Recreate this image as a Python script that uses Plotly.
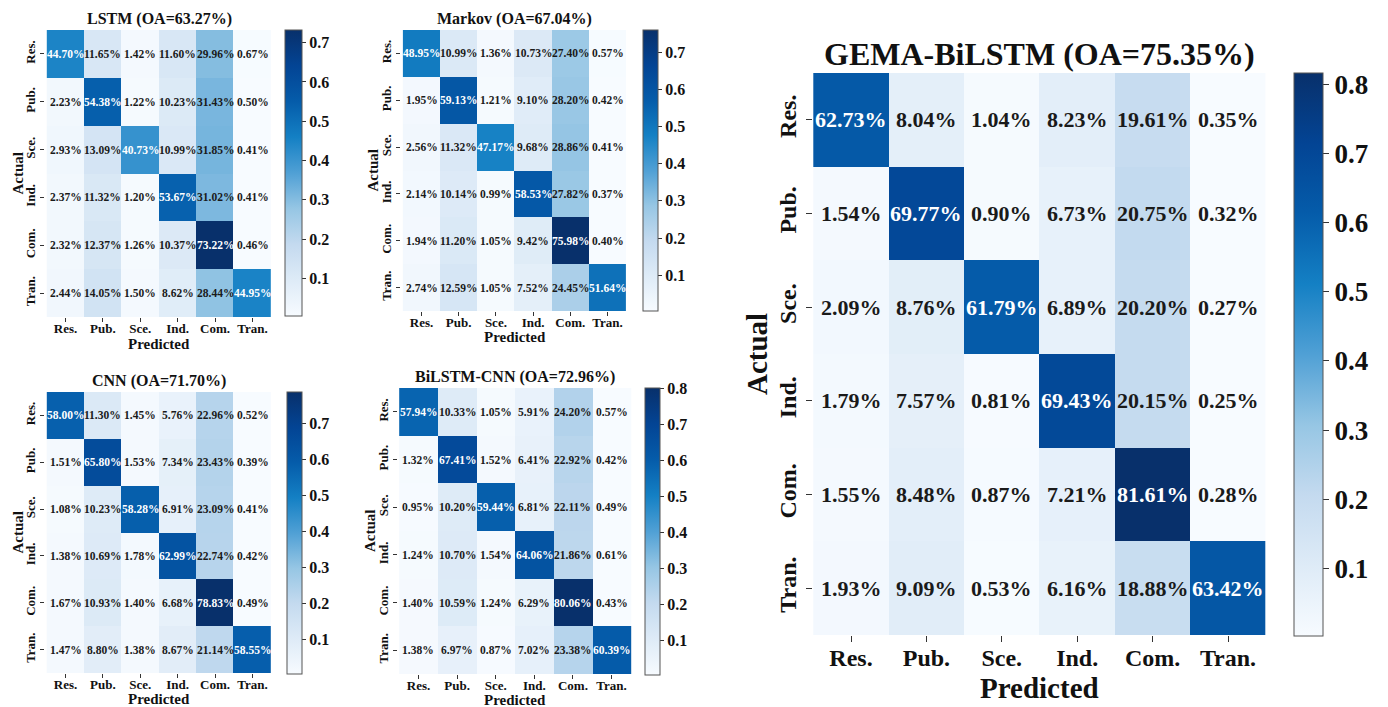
import numpy as np
import plotly.graph_objects as go

W, H = 1388, 707
FONT = "Liberation Serif"

categories = ["Res.", "Pub.", "Sce.", "Ind.", "Com.", "Tran."]

oa_lstm = 63.27
oa_markov = 67.04
oa_cnn = 71.70
oa_bilstm_cnn = 72.96
oa_gema = 75.35

lstm = [
    [44.70, 11.65, 1.42, 11.60, 29.96, 0.67],
    [2.23, 54.38, 1.22, 10.23, 31.43, 0.50],
    [2.93, 13.09, 40.73, 10.99, 31.85, 0.41],
    [2.37, 11.32, 1.20, 53.67, 31.02, 0.41],
    [2.32, 12.37, 1.26, 10.37, 73.22, 0.46],
    [2.44, 14.05, 1.50, 8.62, 28.44, 44.95],
]
markov = [
    [48.95, 10.99, 1.36, 10.73, 27.40, 0.57],
    [1.95, 59.13, 1.21, 9.10, 28.20, 0.42],
    [2.56, 11.32, 47.17, 9.68, 28.86, 0.41],
    [2.14, 10.14, 0.99, 58.53, 27.82, 0.37],
    [1.94, 11.20, 1.05, 9.42, 75.98, 0.40],
    [2.74, 12.59, 1.05, 7.52, 24.45, 51.64],
]
cnn = [
    [58.00, 11.30, 1.45, 5.76, 22.96, 0.52],
    [1.51, 65.80, 1.53, 7.34, 23.43, 0.39],
    [1.08, 10.23, 58.28, 6.91, 23.09, 0.41],
    [1.38, 10.69, 1.78, 62.99, 22.74, 0.42],
    [1.67, 10.93, 1.40, 6.68, 78.83, 0.49],
    [1.47, 8.80, 1.38, 8.67, 21.14, 58.55],
]
bilstm_cnn = [
    [57.94, 10.33, 1.05, 5.91, 24.20, 0.57],
    [1.32, 67.41, 1.52, 6.41, 22.92, 0.42],
    [0.95, 10.20, 59.44, 6.81, 22.11, 0.49],
    [1.24, 10.70, 1.54, 64.06, 21.86, 0.61],
    [1.40, 10.59, 1.24, 6.29, 80.06, 0.43],
    [1.38, 6.97, 0.87, 7.02, 23.38, 60.39],
]
gema_bilstm = [
    [62.73, 8.04, 1.04, 8.23, 19.61, 0.35],
    [1.54, 69.77, 0.90, 6.73, 20.75, 0.32],
    [2.09, 8.76, 61.79, 6.89, 20.20, 0.27],
    [1.79, 7.57, 0.81, 69.43, 20.15, 0.25],
    [1.55, 8.48, 0.87, 7.21, 81.61, 0.28],
    [1.93, 9.09, 0.53, 6.16, 18.88, 63.42],
]

blues = [
    [0.000, "rgb(247,251,255)"],
    [0.125, "rgb(222,235,247)"],
    [0.250, "rgb(196,218,239)"],
    [0.375, "rgb(150,198,228)"],
    [0.500, "rgb(80,160,213)"],
    [0.625, "rgb(20,128,196)"],
    [0.750, "rgb(5,92,170)"],
    [0.875, "rgb(3,68,148)"],
    [1.000, "rgb(8,48,107)"],
]

small = dict(cell=11.5, tick=13, title=16, axis=15, cbtick=16, ticklen=4, stand=-5)
big = dict(cell=22, tick=24, title=32, axis=29, cbtick=27, ticklen=6, stand=-5)

panels = [
    dict(name="LSTM", oa=oa_lstm, data=lstm, box=(45, 273, 30, 317),
         cb=(285, 302, 30, 316), title_y=19, pred_y=344, act_x=17, f=small),
    dict(name="Markov", oa=oa_markov, data=markov, box=(401, 628, 30, 311),
         cb=(643, 658, 30, 311), title_y=19, pred_y=337, act_x=372, f=small),
    dict(name="CNN", oa=oa_cnn, data=cnn, box=(45, 273, 392, 673),
         cb=(287, 302, 392, 674), title_y=381, pred_y=699, act_x=17, f=small),
    dict(name="BiLSTM-CNN", oa=oa_bilstm_cnn, data=bilstm_cnn, box=(398, 632, 388, 674),
         cb=(645, 660, 388, 675), title_y=377, pred_y=700, act_x=370, f=small),
    dict(name="GEMA-BiLSTM", oa=oa_gema, data=gema_bilstm, box=(813, 1266, 73, 635),
         cb=(1294, 1323, 73, 636), title_y=54, pred_y=688, act_x=757, f=big),
]

fig = go.Figure()
annotations = []
layout = {}

for k, p in enumerate(panels):
    n = k + 1
    xa = "x" if n == 1 else f"x{n}"
    ya = "y" if n == 1 else f"y{n}"
    xkey = "xaxis" if n == 1 else f"xaxis{n}"
    ykey = "yaxis" if n == 1 else f"yaxis{n}"
    f = p["f"]
    z = np.array(p["data"]) / 100.0
    zmin, zmax = float(z.min()), float(z.max())
    x0, x1, y0, y1 = p["box"]
    cx0, cx1, cy0, cy1 = p["cb"]

    fig.add_trace(go.Heatmap(
        z=z, x=categories, y=categories, xaxis=xa, yaxis=ya,
        colorscale=blues, zmin=zmin, zmax=zmax, hoverinfo="skip",
        colorbar=dict(
            x=cx0 / W, xanchor="left", xref="paper",
            y=1 - (cy0 + cy1) / 2 / H, yanchor="middle", yref="paper",
            len=cy1 - cy0, lenmode="pixels",
            thickness=cx1 - cx0, thicknessmode="pixels",
            xpad=0, ypad=0, outlinewidth=1, outlinecolor="#555",
            ticks="outside", ticklen=f["ticklen"], tickcolor="#333",
            tick0=0.1, dtick=0.1, tickformat=".1f",
            tickfont=dict(family=FONT, size=f["cbtick"], color="#111", weight="bold"),
        ),
    ))

    layout[xkey] = dict(
        domain=[x0 / W, x1 / W], anchor=ya, showgrid=False, zeroline=False,
        showline=False, ticks="outside", ticklen=f["ticklen"], tickcolor="#333",
        ticklabelstandoff=f["stand"],
        tickfont=dict(family=FONT, size=f["tick"], color="#111", weight="bold"),
        categoryorder="array", categoryarray=categories,
    )
    layout[ykey] = dict(
        domain=[1 - y1 / H, 1 - y0 / H], anchor=xa, showgrid=False, zeroline=False,
        showline=False, ticks="outside", ticklen=f["ticklen"], tickcolor="#333",
        tickangle=-90, autorange="reversed",
        tickfont=dict(family=FONT, size=f["tick"], color="#111", weight="bold"),
        categoryorder="array", categoryarray=categories,
    )

    for i, row in enumerate(p["data"]):
        for j, v in enumerate(row):
            norm = (v / 100.0 - zmin) / (zmax - zmin)
            annotations.append(dict(
                x=categories[j], y=categories[i], xref=xa, yref=ya,
                text=f"{v:.2f}%", showarrow=False,
                font=dict(family=FONT, size=f["cell"], weight="bold",
                          color="white" if norm > 0.5 else "#1a1a1a"),
            ))

    annotations.append(dict(
        x=(x0 + x1) / 2 / W, y=1 - p["title_y"] / H, xref="paper", yref="paper",
        text=f"{p['name']} (OA={p['oa']:.2f}%)", showarrow=False,
        xanchor="center", yanchor="middle",
        font=dict(family=FONT, size=f["title"], color="#111", weight="bold"),
    ))
    annotations.append(dict(
        x=(x0 + x1) / 2 / W, y=1 - p["pred_y"] / H, xref="paper", yref="paper",
        text="Predicted", showarrow=False, xanchor="center", yanchor="middle",
        font=dict(family=FONT, size=f["axis"], color="#111", weight="bold"),
    ))
    annotations.append(dict(
        x=p["act_x"] / W, y=1 - (y0 + y1) / 2 / H, xref="paper", yref="paper",
        text="Actual", showarrow=False, textangle=-90,
        xanchor="center", yanchor="middle",
        font=dict(family=FONT, size=f["axis"], color="#111", weight="bold"),
    ))

fig.update_layout(
    width=W, height=H, margin=dict(l=0, r=0, t=0, b=0),
    paper_bgcolor="white", plot_bgcolor="white",
    showlegend=False, annotations=annotations, **layout,
)

fig.write_html("out.html")
